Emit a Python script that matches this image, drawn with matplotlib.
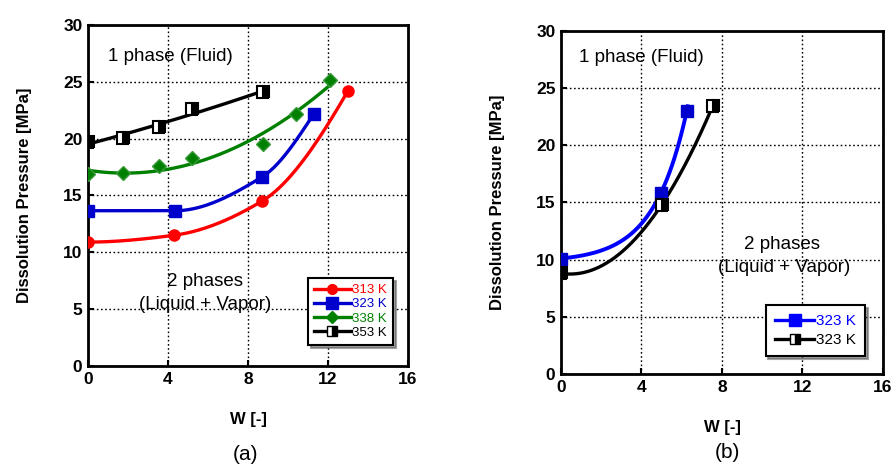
import numpy as np
import matplotlib.pyplot as plt

plt.rcParams['font.family'] = ['Liberation Sans', 'DejaVu Sans']

# (a) dissolution pressure vs W at four temperatures
w313 = [0.0, 4.3, 8.7, 13.0]
p313 = [10.9, 11.5, 14.5, 24.2]
w323 = [0.0, 4.35, 8.72, 11.3]
p323 = [13.66, 13.66, 16.65, 22.2]
w338 = [0.0, 1.73, 3.53, 5.2, 8.75, 10.4, 12.1]
p338 = [16.9, 17.0, 17.6, 18.3, 19.5, 22.2, 25.2]
w353 = [0.0, 1.73, 3.55, 5.22, 8.77]
p353 = [19.7, 20.1, 21.0, 22.6, 24.1]

# (b)
wb_blue = [0.0, 4.97, 6.25]
pb_blue = [10.1, 15.86, 23.0]
wb_black = [0.0, 5.0, 7.54]
pb_black = [8.8, 14.8, 23.45]

xticks = [0, 4, 8, 12, 16]
yticks = [0, 5, 10, 15, 20, 25, 30]


def pchip(x, y, xs):
    # monotone cubic hermite through the points
    x = np.asarray(x, float)
    y = np.asarray(y, float)
    h = np.diff(x)
    d = np.diff(y) / h
    m = np.zeros_like(y)
    for k in range(1, len(x) - 1):
        if d[k - 1] * d[k] > 0:
            w1 = 2 * h[k] + h[k - 1]
            w2 = h[k] + 2 * h[k - 1]
            m[k] = (w1 + w2) / (w1 / d[k - 1] + w2 / d[k])

    def edge(h0, h1, d0, d1):
        v = ((2 * h0 + h1) * d0 - h0 * d1) / (h0 + h1)
        if np.sign(v) != np.sign(d0):
            v = 0.0
        return v
    m[0] = edge(h[0], h[1], d[0], d[1])
    m[-1] = edge(h[-1], h[-2], d[-1], d[-2])
    i = np.clip(np.searchsorted(x, xs) - 1, 0, len(x) - 2)
    t = (xs - x[i]) / h[i]
    h00 = 2 * t**3 - 3 * t**2 + 1
    h10 = t**3 - 2 * t**2 + t
    h01 = -2 * t**3 + 3 * t**2
    h11 = t**3 - t**2
    return h00 * y[i] + h10 * h[i] * m[i] + h01 * y[i + 1] + h11 * h[i] * m[i + 1]


def poly(x, y, xs, deg):
    return np.polyval(np.polyfit(x, y, deg), xs)


def expfit(x, y, xs):
    # p = a + b*exp(c*w), c by grid search
    x = np.asarray(x, float)
    y = np.asarray(y, float)
    best = None
    for c in np.linspace(0.05, 1.5, 600):
        A = np.column_stack([np.ones_like(x), np.exp(c * x)])
        coef, *_ = np.linalg.lstsq(A, y, rcond=None)
        r = np.sum((A @ coef - y) ** 2)
        if best is None or r < best[0]:
            best = (r, c, coef)
    _, c, coef = best
    return coef[0] + coef[1] * np.exp(c * xs)


def style(ax):
    ax.set_xlim(0, 16)
    ax.set_ylim(0, 30)
    ax.set_xticks(xticks)
    ax.set_yticks(yticks)
    ax.grid(True, color='black', linestyle=(0, (1.2, 1.8)), linewidth=1.0)
    ax.tick_params(direction='in', length=4, width=1.5, labelsize=12.5, pad=4)
    for lab in ax.get_xticklabels() + ax.get_yticklabels():
        lab.set_fontweight('bold')
    for s in ax.spines.values():
        s.set_linewidth(2)
    ax.set_xlabel('W [-]', fontsize=12, fontweight='bold', labelpad=18)
    ax.set_ylabel('Dissolution Pressure [MPa]', fontsize=12, fontweight='bold', labelpad=22)


fig = plt.figure(figsize=(8.93, 4.76), dpi=100)
ax1 = fig.add_axes([0.0985, 0.2311, 0.3583, 0.7164])
ax2 = fig.add_axes([0.6282, 0.2143, 0.3606, 0.7206])

lw = 2.4
# panel (a)
xs = np.linspace(w313[0], w313[-1], 200)
ax1.plot(xs, pchip(w313, p313, xs), color='#ff0000', lw=lw)
xs = np.linspace(w323[0], w323[-1], 200)
ax1.plot(xs, pchip(w323, p323, xs), color='#0000cc', lw=lw)
xs = np.linspace(w338[0], w338[-1], 200)
ax1.plot(xs, poly(w338, p338, xs, 2), color='#008000', lw=lw)
xs = np.linspace(w353[0], w353[-1], 200)
ax1.plot(xs, poly(w353, p353, xs, 2), color='black', lw=lw)

ax1.plot(w313, p313, 'o', color='#ff0000', ms=8, zorder=5)
ax1.plot(w323, p323, 's', color='#0000cc', ms=9, zorder=5)
ax1.plot(w338, p338, 'D', color='#008000', mec='#3a9a3a', ms=7, zorder=5)
ax1.plot(w353, p353, 's', color='black', mfc='black', mfcalt='white', fillstyle='right',
         mec='black', mew=1.5, ms=8, zorder=5)

h = [ax1.plot([], [], '-o', color='#ff0000', lw=lw, ms=7)[0],
     ax1.plot([], [], '-s', color='#0000cc', lw=lw, ms=8)[0],
     ax1.plot([], [], '-D', color='#008000', lw=lw, ms=6)[0],
     ax1.plot([], [], '-s', color='black', mfcalt='white', fillstyle='right', lw=lw, ms=7)[0]]
leg = ax1.legend(h, ['313 K', '323 K', '338 K', '353 K'], loc='lower right',
                 bbox_to_anchor=(0.953, 0.062), fontsize=9.5, frameon=True, fancybox=False,
                 shadow=True, framealpha=1, edgecolor='black', handlelength=2.8,
                 handletextpad=0.1, labelspacing=0.15, borderpad=0.45, borderaxespad=0)
leg.get_frame().set_linewidth(1.5)
for t, c in zip(leg.get_texts(), ['#ff0000', '#0000cc', '#008000', 'black']):
    t.set_color(c)

ax1.text(1.0, 27.2, '1 phase (Fluid)', fontsize=13.5, va='center')
ax1.text(5.85, 7.4, '2 phases', fontsize=13.5, ha='center', va='center')
ax1.text(5.85, 5.4, '(Liquid + Vapor)', fontsize=13.5, ha='center', va='center')
style(ax1)

# panel (b)
xs = np.linspace(wb_blue[0], 6.3, 200)
ax2.plot(xs, expfit(wb_blue, pb_blue, xs), color='#0000ff', lw=lw + 0.4)
xs = np.linspace(wb_black[0], wb_black[-1], 200)
ax2.plot(xs, poly(wb_black, pb_black, xs, 2), color='black', lw=lw)
ax2.plot(wb_blue, pb_blue, 's', color='#0000cc', ms=9, zorder=5)
ax2.plot(wb_black, pb_black, 's', color='black', mfc='black', mfcalt='white', fillstyle='right',
         mec='black', mew=1.5, ms=8, zorder=5)

h = [ax2.plot([], [], '-s', color='#0000ff', lw=lw, ms=8)[0],
     ax2.plot([], [], '-s', color='black', mfcalt='white', fillstyle='right', lw=lw, ms=7)[0]]
leg = ax2.legend(h, ['323 K', '323 K'], loc='lower right',
                 bbox_to_anchor=(0.944, 0.052), fontsize=11, frameon=True, fancybox=False,
                 shadow=True, framealpha=1, edgecolor='black', handlelength=2.6,
                 handletextpad=0.1, labelspacing=0.3, borderpad=0.6, borderaxespad=0)
leg.get_frame().set_linewidth(1.5)
for t, c in zip(leg.get_texts(), ['#0000ff', 'black']):
    t.set_color(c)

ax2.text(0.9, 27.7, '1 phase (Fluid)', fontsize=13.5, va='center')
ax2.text(11.0, 11.3, '2 phases', fontsize=13.5, ha='center', va='center')
ax2.text(11.1, 9.3, '(Liquid + Vapor)', fontsize=13.5, ha='center', va='center')
style(ax2)

fig.text(245 / 893, 1 - 455 / 476, '(a)', fontsize=15, ha='center', va='center')
fig.text(727 / 893, 1 - 452 / 476, '(b)', fontsize=15, ha='center', va='center')

fig.savefig('out.png', dpi=100)
